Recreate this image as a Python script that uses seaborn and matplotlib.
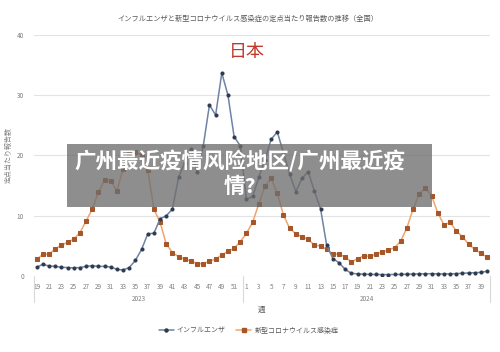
import matplotlib
matplotlib.use("Agg")
import matplotlib.pyplot as plt
from matplotlib.patches import Rectangle
from matplotlib.lines import Line2D
import seaborn as sns
import pandas as pd

# ---- data -------------------------------------------------------------
weeks_2023 = list(range(19, 53))
weeks_2024 = list(range(1, 41))
years = ["2023", "2024"]

influenza = [
    1.45, 1.95, 1.65, 1.6, 1.45, 1.4, 1.35, 1.4, 1.6, 1.7, 1.6, 1.6, 1.5, 1.1,
    1.0, 1.4, 2.6, 4.4, 7.0, 7.1, 9.5, 10.0, 11.1, 16.4, 18.8, 21.1, 17.3, 21.6,
    28.4, 26.7, 33.7, 30.0, 23.1, 21.6,
    12.7, 13.2, 16.4, 19.3, 22.7, 23.9, 20.4, 16.9, 14.0, 16.2, 17.3, 14.1, 11.2,
    5.1, 2.9, 2.2, 1.1, 0.45, 0.35, 0.3, 0.27, 0.25, 0.24, 0.24, 0.25, 0.27,
    0.3, 0.33, 0.35, 0.37, 0.38, 0.35, 0.33, 0.35, 0.4, 0.45, 0.5, 0.55, 0.6, 0.8,
]
covid = [
    2.75, 3.6, 3.6, 4.5, 5.1, 5.6, 6.1, 7.2, 9.1, 11.1, 13.9, 15.9, 15.8, 14.1,
    17.8, 20.3, 20.6, 20.1, 17.6, 11.1, 8.9, 5.3, 3.9, 3.2, 2.8, 2.5, 2.05, 2.05,
    2.45, 2.8, 3.5, 4.1, 4.6, 5.7,
    7.1, 8.9, 12.0, 14.9, 16.2, 13.7, 10.1, 7.9, 7.0, 6.5, 6.1, 5.1, 5.0, 4.4,
    3.7, 3.6, 3.2, 2.3, 2.9, 3.3, 3.3, 3.6, 4.0, 4.3, 4.7, 5.8, 8.0, 11.1, 13.6,
    14.6, 13.3, 10.5, 8.5, 8.9, 7.5, 6.5, 5.3, 4.4, 3.8, 3.1,
]
series_names = ["インフルエンザ", "新型コロナウイルス感染症"]
title = "インフルエンザと新型コロナウイルス感染症の定点当たり報告数の推移（全国）"
overlay_text = "广州最近疫情风险地区/广州最近疫\n情?"

week_labels = [str(w) for w in weeks_2023] + [str(w) for w in weeks_2024]
idx = list(range(len(week_labels)))
df = pd.DataFrame({"idx": idx, "flu": influenza, "covid": covid})

# ---- style ------------------------------------------------------------
sns.set_theme(style="white")
plt.rcParams["font.family"] = ["Noto Sans CJK JP", "DejaVu Sans"]

fig = plt.figure(figsize=(5.0, 3.52), dpi=100)
ax = fig.add_axes([0.0672, 0.2159, 0.9132, 0.6847])

flu_line, flu_mk = "#6f83a3", "#2e3b4e"
cov_line, cov_mk = "#f2a46c", "#a5572a"

sns.lineplot(data=df, x="idx", y="covid", ax=ax, color=cov_line, lw=1.1,
             marker="s", markersize=2.5, markerfacecolor=cov_mk,
             markeredgecolor=cov_mk, zorder=3)
sns.lineplot(data=df, x="idx", y="flu", ax=ax, color=flu_line, lw=1.1,
             marker="o", markersize=2.2, markerfacecolor=flu_mk,
             markeredgecolor=flu_mk, zorder=4)

ax.set_xlim(-0.5, len(idx) - 0.5)
ax.set_ylim(0, 40)
ax.set_yticks([0, 10, 20, 30, 40])
ax.yaxis.grid(True, color="#e3e3e3", lw=0.8)
ax.xaxis.grid(False)
for s in ax.spines.values():
    s.set_visible(False)

ax.set_xticks(idx[::2])
ax.set_xticklabels(week_labels[::2])
ax.tick_params(axis="x", length=0, pad=5, labelsize=4.6, colors="#7f7f7f")
ax.tick_params(axis="y", length=0, pad=7, labelsize=4.6, colors="#7f7f7f")
ax.set_xlabel("")
ax.set_ylabel("定点当たり報告数", fontsize=5, color="#7f7f7f", labelpad=3)

# multi-level category axis separators and year labels
trans = ax.get_xaxis_transform()
for xv in [-0.5, len(weeks_2023) - 0.5, len(idx) - 0.5]:
    ax.plot([xv, xv], [0, -0.108], transform=trans, color="#d9d9d9",
            lw=0.8, clip_on=False)
ax.text((len(weeks_2023) - 1) / 2, -0.095, years[0], transform=trans,
        ha="center", va="center", fontsize=4.6, color="#7f7f7f")
ax.text(len(weeks_2023) + (len(weeks_2024) - 1) / 2, -0.095, years[1],
        transform=trans, ha="center", va="center", fontsize=4.6,
        color="#7f7f7f")
ax.text(0.5, -0.141, "週", transform=ax.transAxes, ha="center", va="center",
        fontsize=5.5, color="#595959")

# titles
fig.text(0.495, 0.946, title, ha="center", va="center", fontsize=5.2,
         color="#595959")
fig.text(0.494, 0.852, "日本", ha="center", va="center", fontsize=13,
         color="#c0392b")

# legend
handles = [
    Line2D([], [], color=flu_line, lw=1.1, marker="o", markersize=2.2,
           markerfacecolor=flu_mk, markeredgecolor=flu_mk),
    Line2D([], [], color=cov_line, lw=1.1, marker="s", markersize=2.5,
           markerfacecolor=cov_mk, markeredgecolor=cov_mk),
]
leg = fig.legend(handles, series_names, loc="center",
                 bbox_to_anchor=(0.497, 0.06), ncol=2, frameon=False,
                 fontsize=5, handlelength=2.2, columnspacing=1.5,
                 handletextpad=0.4)
for t in leg.get_texts():
    t.set_color("#595959")

# grey overlay banner
fig.add_artist(Rectangle((0.134, 0.412), 0.73, 0.179,
                         transform=fig.transFigure, facecolor="#6e6e6e",
                         alpha=0.78, edgecolor="none", zorder=10))
fig.text(0.48, 0.507, overlay_text, ha="center", va="center", fontsize=15.5,
         color="white", fontweight="bold", linespacing=1.2,
         family=["Noto Sans CJK SC", "DejaVu Sans"], zorder=11)

fig.savefig("out.png", dpi=100)
